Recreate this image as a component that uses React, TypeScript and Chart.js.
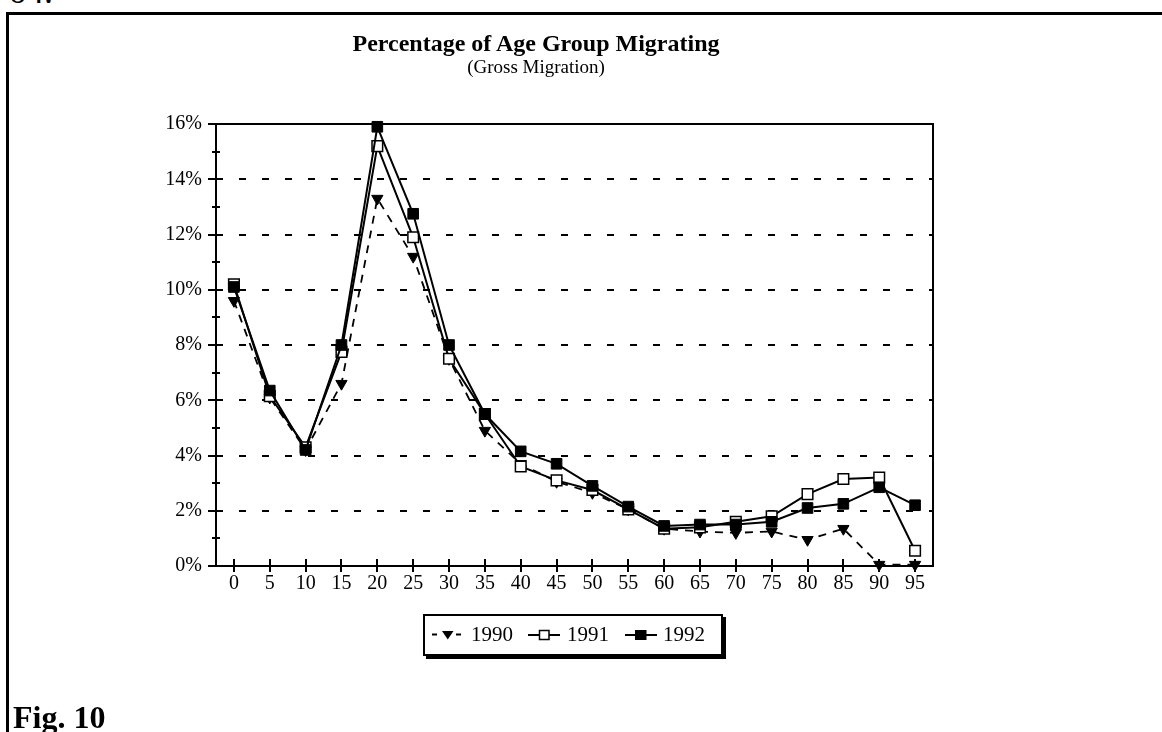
import React, { useEffect, useRef } from "react";
import { Chart, registerables } from "chart.js";

Chart.register(...registerables);

// ---------- data ----------
const AGES = ["0", "5", "10", "15", "20", "25", "30", "35", "40", "45", "50", "55", "60", "65", "70", "75", "80", "85", "90", "95"];
const Y_TICK_VALUES = [0, 2, 4, 6, 8, 10, 12, 14, 16];
const S1990 = [9.6, 6.1, 4.2, 6.6, 13.3, 11.2, 7.5, 4.9, 3.7, 3.05, 2.65, 2.05, 1.35, 1.25, 1.2, 1.25, 0.95, 1.35, 0.05, 0.05];
const S1991 = [10.2, 6.15, 4.3, 7.75, 15.2, 11.9, 7.5, 5.5, 3.6, 3.1, 2.75, 2.05, 1.35, 1.4, 1.6, 1.8, 2.6, 3.15, 3.2, 0.55];
const S1992 = [10.1, 6.35, 4.2, 8.0, 15.9, 12.75, 8.0, 5.5, 4.15, 3.7, 2.9, 2.15, 1.45, 1.5, 1.5, 1.6, 2.1, 2.25, 2.85, 2.2];
const SERIES_NAMES = ["1990", "1991", "1992"];

const FONT = "'Liberation Serif', 'Times New Roman', serif";

const frameTicksPlugin = {
  id: "frameTicks",
  afterDraw(chart: any) {
    const { ctx, chartArea, scales } = chart;
    const { left, right, top, bottom } = chartArea;
    const x = scales.x;
    const y = scales.y;
    ctx.save();
    ctx.strokeStyle = "#000";
    ctx.lineWidth = 2;
    ctx.setLineDash([]);
    ctx.beginPath();
    ctx.moveTo(left, top);
    ctx.lineTo(right, top);
    ctx.lineTo(right, bottom);
    ctx.stroke();
    const yMax = Y_TICK_VALUES[Y_TICK_VALUES.length - 1];
    ctx.beginPath();
    for (let v = 0; v <= yMax; v++) {
      const py = Math.round(y.getPixelForValue(v));
      const major = Y_TICK_VALUES.indexOf(v) >= 0;
      ctx.moveTo(left - (major ? 8 : 4), py);
      ctx.lineTo(left + (major ? 6 : 4), py);
    }
    for (let i = 0; i < AGES.length; i++) {
      const px = Math.round(x.getPixelForValue(i));
      ctx.moveTo(px, bottom - 7);
      ctx.lineTo(px, bottom + 6);
    }
    ctx.stroke();
    ctx.restore();
  },
};

function Txt(props: { x: number; baseline: number; size: number; bold?: boolean; center?: boolean; children: any }) {
  const { x, baseline, size, bold, center, children } = props;
  const top = baseline - 0.8375 * size;
  const style: any = {
    position: "absolute",
    top,
    left: center ? x - 500 : x,
    width: center ? 1000 : undefined,
    textAlign: center ? "center" : "left",
    fontSize: size,
    lineHeight: `${size}px`,
    fontWeight: bold ? "bold" : "normal",
    fontFamily: FONT,
    whiteSpace: "nowrap",
    color: "#000",
  };
  return <div style={style}>{children}</div>;
}

export default function App() {
  const canvasRef = useRef<HTMLCanvasElement | null>(null);

  useEffect(() => {
    const canvas = canvasRef.current;
    if (!canvas) return;
    const chart = new Chart(canvas, {
      type: "line",
      data: {
        labels: AGES,
        datasets: [
          {
            label: SERIES_NAMES[0],
            data: S1990,
            borderColor: "#000",
            backgroundColor: "#000",
            borderWidth: 1.8,
            borderDash: [8, 7],
            pointStyle: "triangle",
            rotation: 180,
            pointRadius: 6.5,
            pointBorderWidth: 1,
            pointBackgroundColor: "#000",
            pointBorderColor: "#000",
            tension: 0,
            clip: false,
            order: 2,
          },
          {
            label: SERIES_NAMES[1],
            data: S1991,
            borderColor: "#000",
            backgroundColor: "#fff",
            borderWidth: 2,
            pointStyle: "rect",
            pointRadius: 7.5,
            pointBorderWidth: 1.5,
            pointBackgroundColor: "#fff",
            pointBorderColor: "#000",
            tension: 0,
            clip: false,
            order: 1,
          },
          {
            label: SERIES_NAMES[2],
            data: S1992,
            borderColor: "#000",
            backgroundColor: "#000",
            borderWidth: 2,
            pointStyle: "rect",
            pointRadius: 7.5,
            pointBorderWidth: 1,
            pointBackgroundColor: "#000",
            pointBorderColor: "#000",
            tension: 0,
            clip: false,
            order: 0,
          },
        ],
      },
      options: {
        responsive: false,
        animation: false,
        events: [],
        layout: { padding: { left: 150, right: 229, top: 124, bottom: 126 } },
        plugins: {
          legend: { display: false },
          title: { display: false },
          tooltip: { enabled: false },
        },
        scales: {
          x: {
            type: "category",
            offset: true,
            afterFit: (s: any) => {
              s.height = 40;
            },
            grid: { display: true, drawOnChartArea: false, drawTicks: false },
            border: { display: true, color: "#000", width: 2 },
            ticks: {
              autoSkip: false,
              maxRotation: 0,
              padding: 6,
              color: "#000",
              font: { family: FONT, size: 20 },
            },
          },
          y: {
            type: "linear",
            min: 0,
            max: 16,
            afterFit: (s: any) => {
              s.width = 66;
            },
            grid: {
              display: true,
              drawTicks: false,
              lineWidth: 2,
              color: (c: any) => {
                const v = c.tick ? c.tick.value : -1;
                return v > 0 && v < 16 && Y_TICK_VALUES.indexOf(v) >= 0 ? "#000" : "rgba(0,0,0,0)";
              },
            },
            border: { display: true, color: "#000", width: 2, dash: [7, 16], dashOffset: 1 },
            ticks: {
              stepSize: 1,
              autoSkip: false,
              padding: 14,
              color: "#000",
              font: { family: FONT, size: 20 },
              callback: (v: any) => (Y_TICK_VALUES.indexOf(Number(v)) >= 0 ? `${v}%` : ""),
            },
          },
        },
      } as any,
      plugins: [frameTicksPlugin],
    });
    return () => chart.destroy();
  }, []);

  return (
    <div
      style={{
        position: "fixed",
        left: 0,
        top: 0,
        width: 1162,
        height: 732,
        background: "#fff",
        overflow: "hidden",
        fontFamily: FONT,
      }}
    >
      <Txt x={8} baseline={3} size={36}>64.</Txt>
      <div style={{ position: "absolute", left: 6, top: 12, width: 1156, height: 3, background: "#000" }} />
      <div style={{ position: "absolute", left: 6, top: 12, width: 3, height: 720, background: "#000" }} />
      <canvas
        ref={canvasRef}
        width={1162}
        height={732}
        style={{ position: "absolute", left: 0, top: 0, width: 1162, height: 732 }}
      />
      <Txt x={536} baseline={51} size={24} bold center>
        Percentage of Age Group Migrating
      </Txt>
      <Txt x={536} baseline={73} size={19} center>
        (Gross Migration)
      </Txt>

      <div
        style={{
          position: "absolute",
          left: 423,
          top: 614,
          width: 296,
          height: 38,
          border: "2px solid #000",
          boxShadow: "3px 3px 0 #000",
          background: "#fff",
        }}
      />
      <svg
        width={300}
        height={42}
        style={{ position: "absolute", left: 423, top: 614 }}
      >
        <line x1={9} y1={20.5} x2={14} y2={20.5} stroke="#000" strokeWidth={2} />
        <polygon points="19,17 30.5,17 24.75,25.5" fill="#000" />
        <line x1={33} y1={20.5} x2={38} y2={20.5} stroke="#000" strokeWidth={2} />

        <line x1={105} y1={21} x2={137} y2={21} stroke="#000" strokeWidth={2} />
        <rect x={116.5} y={16.5} width={9.5} height={9} fill="#fff" stroke="#000" strokeWidth={1.5} />

        <line x1={202} y1={21} x2={234} y2={21} stroke="#000" strokeWidth={2} />
        <rect x={212} y={16} width={11.5} height={10} fill="#000" />
      </svg>
      <Txt x={471} baseline={642} size={21}>{SERIES_NAMES[0]}</Txt>
      <Txt x={567} baseline={642} size={21}>{SERIES_NAMES[1]}</Txt>
      <Txt x={663} baseline={642} size={21}>{SERIES_NAMES[2]}</Txt>

      <Txt x={13} baseline={728} size={32} bold>Fig. 10</Txt>
    </div>
  );
}
